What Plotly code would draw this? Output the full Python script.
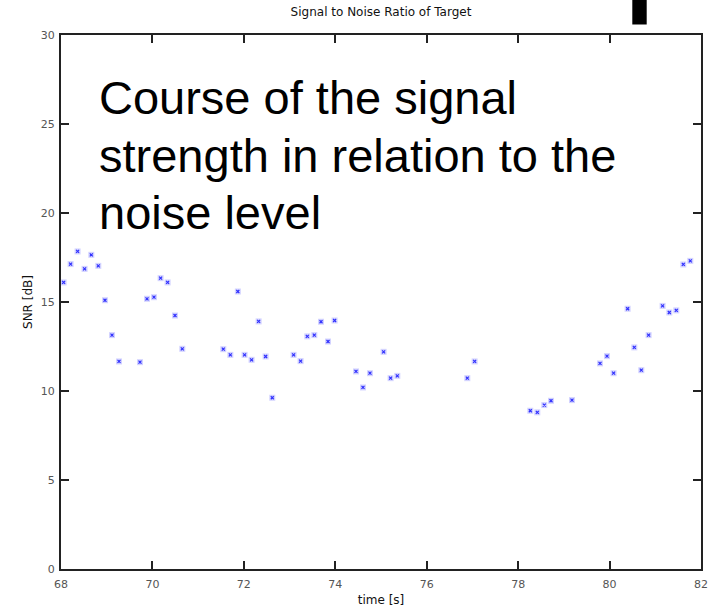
import plotly.graph_objects as go

# --- data ---
time_s = [68.057, 68.21, 68.363, 68.516, 68.663, 68.816, 68.962, 69.116, 69.269,
          69.728, 69.881, 70.034, 70.179, 70.332, 70.494, 70.653,
          71.550, 71.704, 71.868, 72.016, 72.169, 72.323, 72.476, 72.622,
          73.088, 73.241, 73.388, 73.541, 73.688, 73.841, 73.985,
          74.453, 74.606, 74.759, 75.057, 75.210, 75.357,
          76.888, 77.048,
          78.266, 78.419, 78.572, 78.719, 79.178,
          79.791, 79.944, 80.088, 80.395, 80.541, 80.694, 80.854,
          81.160, 81.307, 81.460, 81.613, 81.766]
snr_db = [16.10, 17.13, 17.84, 16.86, 17.65, 17.03, 15.10, 13.14, 11.66,
          11.62, 15.18, 15.27, 16.34, 16.10, 14.24, 12.37,
          12.35, 12.03, 15.59, 12.03, 11.75, 13.91, 11.94, 9.62,
          12.03, 11.68, 13.07, 13.14, 13.89, 12.78, 13.96,
          11.10, 10.20, 11.00, 12.20, 10.72, 10.85,
          10.72, 11.66,
          8.89, 8.80, 9.21, 9.45, 9.49,
          11.55, 11.96, 11.00, 14.62, 12.45, 11.17, 13.14,
          14.78, 14.41, 14.53, 17.11, 17.31]

x_ticks = [68, 70, 72, 74, 76, 78, 80, 82]
y_ticks = [0, 5, 10, 15, 20, 25, 30]

title_text = "Signal to Noise Ratio of Target"
x_label = "time [s]"
y_label = "SNR [dB]"
note_lines = ["Course of the signal", "strength in relation to the", "noise level"]

fig = go.Figure()
fig.add_trace(go.Scatter(
    x=time_s, y=snr_db, mode="markers", hoverinfo="skip", showlegend=False,
    marker=dict(symbol="square", size=6, color="rgba(130,130,255,0.35)", line=dict(width=0)),
))
fig.add_trace(go.Scatter(
    x=time_s, y=snr_db, mode="markers", showlegend=False,
    marker=dict(symbol="x-thin", size=3, line=dict(width=1.2, color="#3030ff")),
))

axis_common = dict(
    showline=True, linewidth=2, linecolor="#222222", mirror="ticks",
    ticks="inside", ticklen=8, tickwidth=2, tickcolor="#222222",
    showgrid=False, zeroline=False, automargin=False,
    tickfont=dict(family="DejaVu Sans", size=11, color="#555555"),
    title_font=dict(family="DejaVu Sans", size=12, color="#111111"),
)

fig.update_xaxes(range=[68, 82], tickvals=x_ticks, ticktext=[str(v) for v in x_ticks],
                 title_text=x_label, title_standoff=5, ticklabelstandoff=4, **axis_common)
fig.update_yaxes(range=[0, 30], tickvals=y_ticks, ticktext=[str(v) for v in y_ticks],
                 title_text=y_label, title_standoff=6, ticklabelstandoff=2, **axis_common)

L, R, T, B = 61, 9, 35, 41
W, H = 710, 610
pw, ph = W - L - R, H - T - B

def px_x(px):
    return (px - L) / pw

def px_y(py):
    return (H - B - py) / ph

# text block in the upper-left of the plot
centers = [98, 155, 212]
for line, cy in zip(note_lines, centers):
    fig.add_annotation(text=line, xref="paper", yref="paper", x=px_x(97), y=px_y(cy),
                       xanchor="left", yanchor="middle", showarrow=False,
                       font=dict(family="Liberation Sans", size=47, color="#000000"))

# black block at top right
fig.add_shape(type="rect", xref="paper", yref="paper",
              x0=px_x(632.3), x1=px_x(646.7), y0=px_y(24.5), y1=px_y(-2),
              fillcolor="#000000", line=dict(width=0))

fig.update_layout(
    width=W, height=H,
    margin=dict(l=L, r=R, t=T, b=B, autoexpand=False),
    paper_bgcolor="white", plot_bgcolor="white",
    title=dict(text=title_text, x=381 / W, xanchor="center",
               y=1 - 12 / H, yanchor="middle",
               font=dict(family="DejaVu Sans", size=12, color="#111111")),
)

fig.write_html("out.html")
